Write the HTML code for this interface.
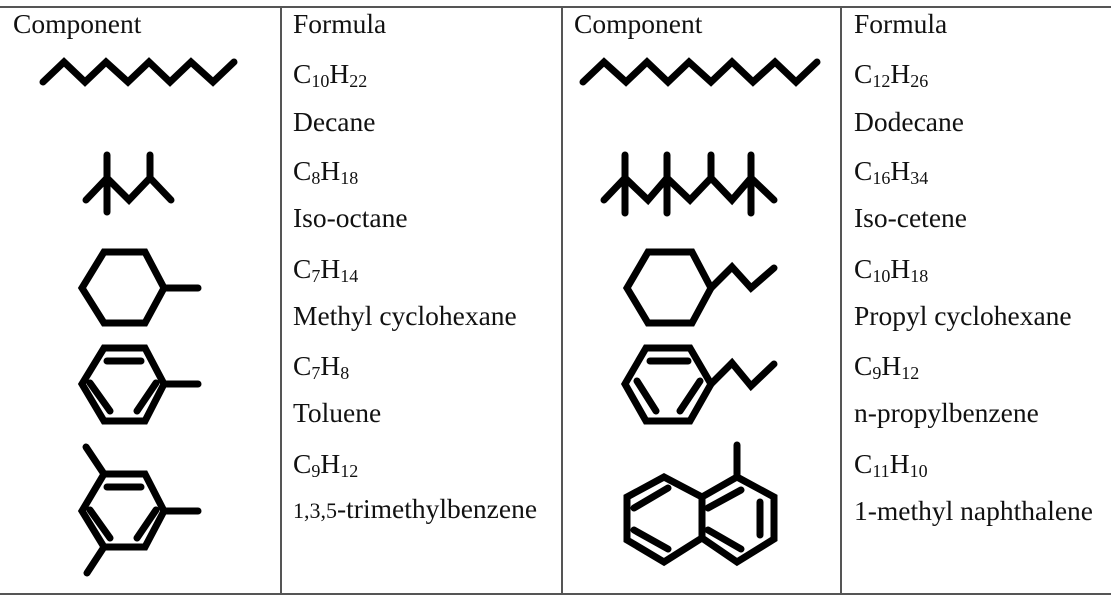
<!DOCTYPE html>
<html><head><meta charset="utf-8"><style>
html,body{margin:0;padding:0;background:#fff;}
svg{display:block;}
text{font-family:"Liberation Serif",serif;font-size:27.5px;fill:#111;}
.s{font-size:18px;}
</style></head><body>
<svg width="1111" height="600" viewBox="0 0 1111 600" xmlns="http://www.w3.org/2000/svg">
<g stroke="#555" stroke-width="2" fill="none">
<line x1="0" y1="7" x2="1111" y2="7"/>
<line x1="0" y1="594" x2="1111" y2="594"/>
<line x1="281" y1="7" x2="281" y2="594"/>
<line x1="562" y1="7" x2="562" y2="594"/>
<line x1="841" y1="7" x2="841" y2="594"/>
</g>
<g>
<text x="13" y="33">Component</text>
<text x="293" y="33">Formula</text>
<text x="574" y="33">Component</text>
<text x="854" y="33">Formula</text>

<text x="293" y="83">C<tspan class="s" dy="4">10</tspan><tspan dy="-4">H</tspan><tspan class="s" dy="4">22</tspan></text>
<text x="293" y="131">Decane</text>
<text x="293" y="180">C<tspan class="s" dy="4">8</tspan><tspan dy="-4">H</tspan><tspan class="s" dy="4">18</tspan></text>
<text x="293" y="227">Iso-octane</text>
<text x="293" y="278">C<tspan class="s" dy="4">7</tspan><tspan dy="-4">H</tspan><tspan class="s" dy="4">14</tspan></text>
<text x="293" y="325">Methyl cyclohexane</text>
<text x="293" y="375">C<tspan class="s" dy="4">7</tspan><tspan dy="-4">H</tspan><tspan class="s" dy="4">8</tspan></text>
<text x="293" y="422">Toluene</text>
<text x="293" y="473">C<tspan class="s" dy="4">9</tspan><tspan dy="-4">H</tspan><tspan class="s" dy="4">12</tspan></text>
<text x="293" y="518"><tspan style="font-size:22px">1,3,5</tspan>-trimethylbenzene</text>

<text x="854" y="83">C<tspan class="s" dy="4">12</tspan><tspan dy="-4">H</tspan><tspan class="s" dy="4">26</tspan></text>
<text x="854" y="131">Dodecane</text>
<text x="854" y="180">C<tspan class="s" dy="4">16</tspan><tspan dy="-4">H</tspan><tspan class="s" dy="4">34</tspan></text>
<text x="854" y="227">Iso-cetene</text>
<text x="854" y="278">C<tspan class="s" dy="4">10</tspan><tspan dy="-4">H</tspan><tspan class="s" dy="4">18</tspan></text>
<text x="854" y="325">Propyl cyclohexane</text>
<text x="854" y="375">C<tspan class="s" dy="4">9</tspan><tspan dy="-4">H</tspan><tspan class="s" dy="4">12</tspan></text>
<text x="854" y="422">n-propylbenzene</text>
<text x="854" y="473">C<tspan class="s" dy="4">11</tspan><tspan dy="-4">H</tspan><tspan class="s" dy="4">10</tspan></text>
<text x="854" y="520">1-methyl naphthalene</text>
</g>
<g stroke="#000" stroke-width="7" fill="none" stroke-linecap="round" stroke-linejoin="miter">
<polyline points="43,82 64,62 85,82 106,62 128,82 149,62 170,82 191,62 213,82 234,62"/>
<line x1="107" y1="155" x2="107" y2="212"/>
<polyline points="86,200 107,178 129,200 150,178 171,200"/>
<line x1="150" y1="155" x2="150" y2="178"/>
<polygon points="104,252 145,252 164,288 145,323 104,323 82,288"/>
<line x1="164" y1="288" x2="198" y2="288"/>
<polygon points="104,348 145,348 164,384 145,421 104,421 82,384"/>
<line x1="164" y1="384" x2="198" y2="384"/>
<line x1="107" y1="361" x2="141" y2="361"/>
<line x1="90" y1="383" x2="110" y2="411"/>
<line x1="137" y1="411" x2="156" y2="383"/>
<polygon points="104,474 145,474 164,511 145,547 104,547 82,511"/>
<line x1="164" y1="511" x2="198" y2="511"/>
<line x1="104" y1="474" x2="86" y2="447"/>
<line x1="104" y1="547" x2="87" y2="573"/>
<line x1="107" y1="487" x2="141" y2="487"/>
<line x1="90" y1="510" x2="110" y2="538"/>
<line x1="137" y1="538" x2="156" y2="510"/>
<polyline points="583,82 604,62 626,82 647,62 668,82 689,62 711,82 732,62 753,82 775,62 796,82 817,62"/>
<polyline points="604,200 625,178 648,200 667,178 690,200 711,178 732,200 751,178 774,200"/>
<line x1="625" y1="155" x2="625" y2="213"/>
<line x1="667" y1="155" x2="667" y2="213"/>
<line x1="711" y1="155" x2="711" y2="178"/>
<line x1="751" y1="155" x2="751" y2="213"/>
<polygon points="648,252 692,252 711,288 692,323 648,323 627,288"/>
<polyline points="711,288 732,267 751,288 774,268"/>
<polygon points="646,348 690,348 711,384 690,421 646,421 625,384"/>
<polyline points="711,384 732,363 751,386 774,364"/>
<line x1="650" y1="361" x2="688" y2="361"/>
<line x1="637" y1="381" x2="656" y2="411"/>
<line x1="680" y1="411" x2="700" y2="381"/>
<polygon points="664,477 702,497 702,538 664,562 627,540 627,497"/>
<polygon points="737,477 774,497 774,539 737,562 702,538 702,497"/>
<line x1="737" y1="477" x2="737" y2="445"/>
<line x1="634" y1="508" x2="668" y2="488"/>
<line x1="634" y1="530" x2="668" y2="549"/>
<line x1="708" y1="508" x2="741" y2="490"/>
<line x1="760" y1="502" x2="760" y2="535"/>
<line x1="708" y1="530" x2="741" y2="549"/>
</g>
</svg>
</body></html>
